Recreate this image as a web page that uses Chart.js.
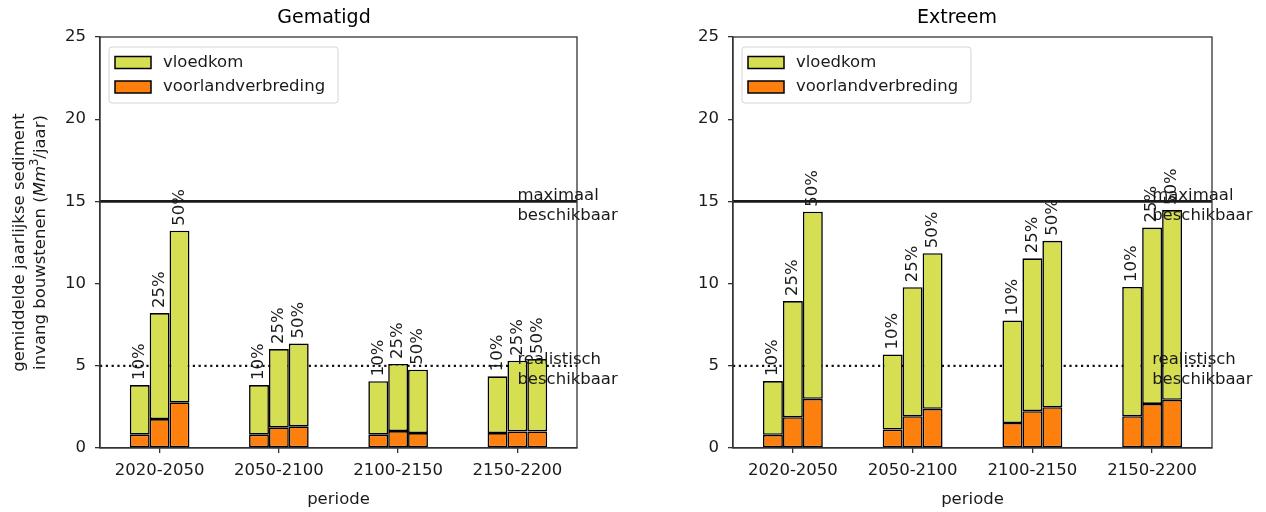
<!DOCTYPE html>
<html>
<head>
<meta charset="utf-8">
<script src="https://cdn.jsdelivr.net/npm/chart.js@4/dist/chart.umd.min.js"></script>
<style>
html,body{margin:0;padding:0;background:#fff;}
#wrap{position:relative;width:1266px;height:512px;}
canvas{position:absolute;top:0;}
</style>
</head>
<body>
<div id="wrap">
<canvas id="c1" width="633" height="512" style="left:0px"></canvas>
<canvas id="c2" width="633" height="512" style="left:633px"></canvas>
</div>
<script>
// ---------------- data ----------------
const periods = ['2020-2050', '2050-2100', '2100-2150', '2150-2200'];
const scenarios = ['10%', '25%', '50%'];
const seriesNames = ['voorlandverbreding', 'vloedkom'];
const chartTitles = ['Gematigd', 'Extreem'];

// rows: scenario 10%, 25%, 50% ; columns: periods
const gematigdVoorland = [
  [0.81, 0.81, 0.81, 0.91],
  [1.76, 1.26, 1.03, 1.01],
  [2.78, 1.32, 0.91, 1.01]
];
const gematigdVloedkom = [
  [3.02, 3.02, 3.25, 3.45],
  [6.45, 4.76, 4.08, 4.30],
  [10.44, 5.03, 3.85, 4.40]
];
const extreemVoorland = [
  [0.80, 1.12, 1.52, 1.93],
  [1.87, 1.93, 2.24, 2.68],
  [2.99, 2.38, 2.48, 2.93]
];
const extreemVloedkom = [
  [3.27, 4.57, 6.24, 7.87],
  [7.07, 7.85, 9.30, 10.73],
  [11.38, 9.47, 10.12, 11.54]
];

const refLevels = [15, 5];
const refLabels = [['maximaal', 'beschikbaar'], ['realistisch', 'beschikbaar']];
const yTickValues = [0, 5, 10, 15, 20, 25];
const yTitleLine1 = 'gemiddelde jaarlijkse sediment';
const yTitleLine2 = ['invang bouwstenen (', 'Mm', '3', '/jaar)'];
const xTitle = 'periode';

// ---------------- style ----------------
const FAMILY = "'DejaVu Sans', sans-serif";
const FS = 16.5;
const COLORS = { voorlandverbreding: '#fd7f0d', vloedkom: '#d6df52' };
const INK = '#1a1a1a';
const AXIS = '#333';

Chart.defaults.font.family = FAMILY;
Chart.defaults.font.size = FS;
Chart.defaults.color = INK;

function font(style, size) {
  return (style ? style + ' ' : '') + size + 'px ' + FAMILY;
}

const extrasPlugin = {
  id: 'extras',
  beforeDatasetsDraw(chart) {
    const { ctx, chartArea: a, scales: { y } } = chart;
    ctx.save();
    refLevels.forEach((v, i) => {
      const py = y.getPixelForValue(v);
      ctx.beginPath();
      if (i === 0) {
        ctx.setLineDash([]);
        ctx.lineWidth = 2.6;
        ctx.strokeStyle = '#1a1a1a';
      } else {
        ctx.setLineDash([2.2, 3.6]);
        ctx.lineWidth = 2.2;
        ctx.strokeStyle = '#111';
      }
      ctx.moveTo(a.left, py);
      ctx.lineTo(a.right, py);
      ctx.stroke();
    });
    ctx.restore();
  },
  afterDatasetsDraw(chart) {
    const { ctx, chartArea: a, scales: { x, y } } = chart;
    ctx.save();
    // frame
    ctx.strokeStyle = AXIS;
    ctx.lineWidth = 1.3;
    ctx.strokeRect(a.left, a.top, a.right - a.left, a.bottom - a.top);

    // scenario labels above bars
    ctx.fillStyle = INK;
    ctx.font = font('', FS);
    const nS = scenarios.length;
    scenarios.forEach((lab, s) => {
      const meta = chart.getDatasetMeta(nS + s);
      meta.data.forEach(el => {
        ctx.save();
        ctx.translate(el.x, el.y - 5);
        ctx.rotate(-Math.PI / 2);
        ctx.textAlign = 'left';
        ctx.textBaseline = 'middle';
        ctx.fillText(lab, 0, 0);
        ctx.restore();
      });
    });

    // reference labels
    const lx = x.getPixelForValue(periods.length - 1);
    ctx.textAlign = 'left';
    ctx.textBaseline = 'alphabetic';
    refLevels.forEach((v, i) => {
      const py = y.getPixelForValue(v);
      ctx.fillText(refLabels[i][0], lx, py - 1.5);
      ctx.fillText(refLabels[i][1], lx, py + 18.5);
    });

    // legend
    const bx = a.left + 9, by = a.top + 10, bw = 229, bh = 56;
    ctx.beginPath();
    ctx.roundRect(bx, by, bw, bh, 3);
    ctx.fillStyle = 'rgba(255,255,255,0.85)';
    ctx.fill();
    ctx.strokeStyle = '#d4d4d4';
    ctx.lineWidth = 1;
    ctx.stroke();
    const items = [seriesNames[1], seriesNames[0]];
    items.forEach((name, k) => {
      const cy = by + 15.5 + k * 24.5;
      ctx.fillStyle = COLORS[name];
      ctx.fillRect(bx + 6, cy - 6, 36, 12);
      ctx.strokeStyle = '#000';
      ctx.lineWidth = 1.5;
      ctx.strokeRect(bx + 6, cy - 6, 36, 12);
      ctx.fillStyle = INK;
      ctx.font = font('', FS);
      ctx.textAlign = 'left';
      ctx.textBaseline = 'middle';
      ctx.fillText(name, bx + 54, cy);
    });

    // y axis title (left chart only)
    if (chart.options.plugins.extras && chart.options.plugins.extras.yTitle) {
      const cy = (a.top + a.bottom) / 2;
      ctx.fillStyle = INK;
      ctx.save();
      ctx.translate(20, cy);
      ctx.rotate(-Math.PI / 2);
      ctx.textAlign = 'center';
      ctx.textBaseline = 'middle';
      ctx.font = font('', FS);
      ctx.fillText(yTitleLine1, 0, 0);
      ctx.restore();

      ctx.save();
      ctx.translate(41, cy);
      ctx.rotate(-Math.PI / 2);
      ctx.textBaseline = 'middle';
      ctx.textAlign = 'left';
      const parts = [
        { t: yTitleLine2[0], f: font('', FS), dy: 0 },
        { t: yTitleLine2[1], f: font('italic', FS), dy: 0 },
        { t: yTitleLine2[2], f: font('', FS * 0.7), dy: -6 },
        { t: yTitleLine2[3], f: font('', FS), dy: 0 }
      ];
      let total = 0;
      parts.forEach(p => { ctx.font = p.f; p.w = ctx.measureText(p.t).width; total += p.w; });
      let px = -total / 2;
      parts.forEach(p => { ctx.font = p.f; ctx.fillText(p.t, px, p.dy); px += p.w; });
      ctx.restore();
    }
    ctx.restore();
  }
};

function makeChart(id, title, voorland, vloedkom, showYTitle, rightPad) {
  const datasets = [];
  scenarios.forEach((s, i) => datasets.push({
    label: seriesNames[0], data: voorland[i], stack: s, yAxisID: 'y',
    backgroundColor: COLORS.voorlandverbreding, borderColor: '#000', borderWidth: 1.6, borderSkipped: false
  }));
  scenarios.forEach((s, i) => datasets.push({
    label: seriesNames[1], data: vloedkom[i], stack: s, yAxisID: 'y',
    backgroundColor: COLORS.vloedkom, borderColor: '#000', borderWidth: 1.6, borderSkipped: false
  }));
  return new Chart(document.getElementById(id), {
    type: 'bar',
    data: { labels: periods, datasets },
    options: {
      responsive: false,
      animation: false,
      devicePixelRatio: 1,
      layout: { padding: { left: 15, right: 0, top: 0, bottom: 0 } },
      datasets: { bar: { barPercentage: 1, categoryPercentage: 0.5 } },
      plugins: {
        legend: { display: false },
        tooltip: { enabled: false },
        title: {
          display: true, text: title, color: '#000',
          font: { size: 19, weight: 'normal' },
          padding: { top: 7, bottom: 7.2 }
        },
        extras: { yTitle: showYTitle }
      },
      scales: {
        x: {
          stacked: true,
          offset: true,
          grid: { display: true, offset: false, drawOnChartArea: false, drawTicks: true, tickLength: 5, color: AXIS, lineWidth: 1.3 },
          border: { display: true, color: AXIS, width: 1.3 },
          ticks: { color: INK, font: { size: FS }, padding: 8, maxRotation: 0, autoSkip: false },
          title: { display: true, text: xTitle, color: INK, font: { size: FS }, padding: { top: 0, bottom: 2 } },
          afterFit: s => { s.height = 64; }
        },
        y: {
          stacked: true,
          min: yTickValues[0],
          max: yTickValues[yTickValues.length - 1],
          afterBuildTicks: s => { s.ticks = yTickValues.map(v => ({ value: v })); },
          grid: { display: true, drawOnChartArea: false, drawTicks: true, tickLength: 5, color: AXIS, lineWidth: 1.3 },
          border: { display: true, color: AXIS, width: 1.3 },
          ticks: { color: INK, font: { size: FS }, padding: 9 },
          afterFit: s => { s.width = 85; }
        },
        yR: {
          position: 'right',
          display: true,
          grid: { display: false },
          border: { display: false },
          ticks: { display: false },
          afterFit: s => { s.width = rightPad; }
        }
      }
    },
    plugins: [extrasPlugin]
  });
}

makeChart('c1', chartTitles[0], gematigdVoorland, gematigdVloedkom, true, 56);
makeChart('c2', chartTitles[1], extreemVoorland, extreemVloedkom, false, 54);
</script>
</body>
</html>
